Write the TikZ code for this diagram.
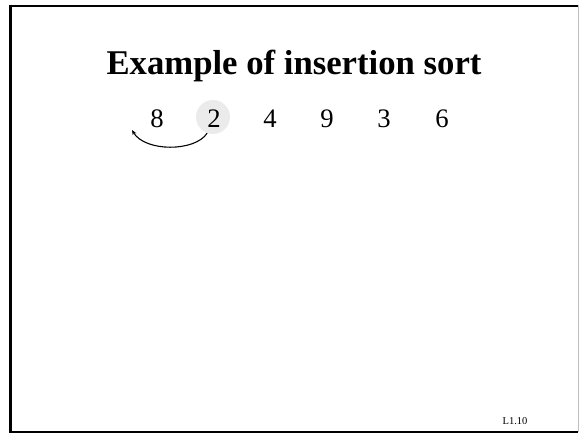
\documentclass[tikz,border=0pt]{standalone}
\usepackage{fontspec}
\setmainfont{Liberation Serif}
\usetikzlibrary{arrows.meta}
\definecolor{hilite}{RGB}{235,235,235}
\definecolor{edgegray}{RGB}{190,190,190}
\tikzset{
  digit/.style={font=\fontsize{26.7}{30}\selectfont, anchor=base, inner sep=0pt},
  framebar/.style={line width=2.6pt, black},
  swaparrow/.style={line width=1.1pt, -{Stealth[length=5pt,width=4pt]}},
}
\begin{document}
\begin{tikzpicture}[x=1pt,y=1pt]
\useasboundingbox (0,0) rectangle (579,-433);
% frame
\draw[edgegray, line width=1pt] (578,-5) -- (578,-432);
\draw[framebar] (10.5,-6) -- (578,-6);
\draw[framebar] (10.5,-4.7) -- (10.5,-433);
\draw[framebar] (9.2,-432) -- (578,-432);
% title
\node[font=\bfseries\fontsize{34.7}{40}\selectfont, anchor=base, inner sep=0pt] (title) at (294,-75) {Example of insertion sort};
% highlight behind 2
\node[circle, fill=hilite, minimum size=34pt, inner sep=0pt] (c2) at (213,-117) {};
% digits
\node[digit] (n1) at (157,-128) {8};
\node[digit] (n2) at (214,-128) {2};
\node[digit] (n3) at (270,-128) {4};
\node[digit] (n4) at (327,-128) {9};
\node[digit] (n5) at (384,-128) {3};
\node[digit] (n6) at (442,-128) {6};
% arrow
\coordinate (tipend) at (132,-130);
\draw[swaparrow] (c2.250) .. controls (195,-152) and (145,-152) .. (tipend);
% slide label
\node[font=\fontsize{10.5}{12}\selectfont, anchor=base, inner sep=0pt] (lbl) at (515,-424) {L1.10};
\end{tikzpicture}
\end{document}
